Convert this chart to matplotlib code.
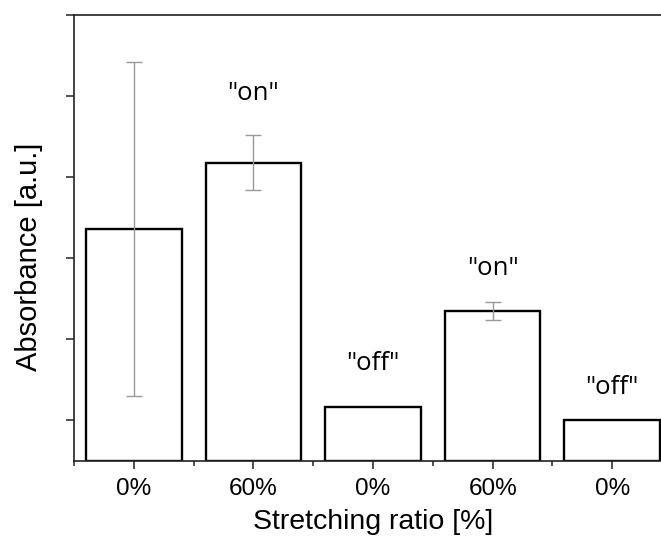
import numpy as np
import matplotlib.pyplot as plt
from matplotlib.ticker import MultipleLocator

# absorbance per sample (a.u.) with error
positions = [1, 2, 3, 4, 5]
tick_labels = ['0%', '60%', '0%', '60%', '0%']
absorbance = [2.86, 3.68, 0.67, 1.85, 0.51]
errors = [2.06, 0.34, 0.0, 0.11, 0.0]
state_labels = [None, '"on"', '"off"', '"on"', '"off"']
label_pad = [0, 30, 31, 24, 23]  # points above error bar top

plt.rcParams['font.family'] = ['Liberation Sans', 'DejaVu Sans']

fig = plt.figure(figsize=(6.61, 5.44), dpi=100)
ax = fig.add_axes([0.112, 0.1526, 0.9047, 0.8199])

ax.bar(positions, absorbance, width=0.8, color='white', edgecolor='black',
       linewidth=1.7, zorder=2)
err_x = [p for p, e in zip(positions, errors) if e > 0]
err_y = [v for v, e in zip(absorbance, errors) if e > 0]
err_e = [e for e in errors if e > 0]
ax.errorbar(err_x, err_y, yerr=err_e, fmt='none', ecolor='#999999',
            elinewidth=1.0, capsize=5.5, capthick=1.0, zorder=3)

for p, v, e, lab, pad in zip(positions, absorbance, errors, state_labels, label_pad):
    if lab:
        ax.annotate(lab, (p, v + e), xytext=(0, pad), textcoords='offset points',
                    ha='center', va='center', fontsize=18.5,
                    family=['Open Sans', 'Noto Sans', 'DejaVu Sans'])

ax.set_xlim(0.5, 5.5)
ax.set_ylim(0, 5.5)
ax.set_xticks(positions)
ax.set_xticklabels(tick_labels, fontsize=17.5)
ax.xaxis.set_minor_locator(MultipleLocator(1, offset=0.5))
ax.yaxis.set_major_locator(MultipleLocator(1, offset=0.5))
ax.set_yticklabels([])

for s in ax.spines.values():
    s.set_linewidth(1.2)
    s.set_color('#222222')
ax.tick_params(axis='both', which='major', direction='out', length=6,
               width=1.1, color='#222222')
ax.tick_params(axis='x', which='minor', direction='out', length=3.6,
               width=1.1, color='#222222')
ax.tick_params(axis='x', pad=6)

ax.set_xlabel('Stretching ratio [%]', fontsize=20.5, labelpad=7)
ax.set_ylabel('Absorbance [a.u.]', fontsize=21, labelpad=13)
ax.yaxis.label.set_y(0.457)

fig.savefig('out.png', dpi=100)
